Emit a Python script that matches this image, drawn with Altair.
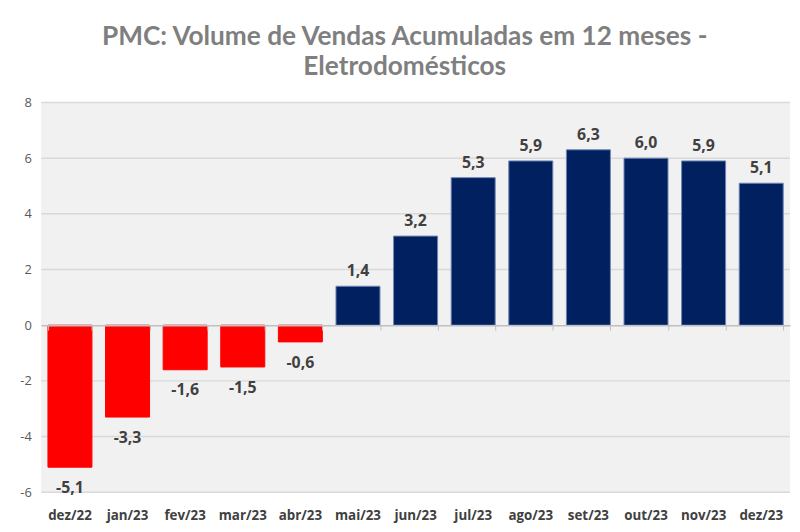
import altair as alt
import pandas as pd

# ---- data ----
months = ["dez/22", "jan/23", "fev/23", "mar/23", "abr/23", "mai/23", "jun/23",
          "jul/23", "ago/23", "set/23", "out/23", "nov/23", "dez/23"]
values = [-5.1, -3.3, -1.6, -1.5, -0.6, 1.4, 3.2, 5.3, 5.9, 6.3, 6.0, 5.9, 5.1]
y_ticks = [-6, -4, -2, 0, 2, 4, 6, 8]
title_lines = ["PMC: Volume de Vendas Acumuladas em 12 meses -", "Eletrodomésticos"]

df = pd.DataFrame({"mes": months, "v": values})
df["lbl"] = [f"{x:.1f}".replace(".", ",") for x in values]
grid_df = pd.DataFrame({"t": [t for t in y_ticks if t != 0]})

W, H = 757, 394
Y_MIN, Y_MAX = -6, 8
zero_from_bottom = H * (0 - Y_MIN) / (Y_MAX - Y_MIN)

FONT = "Open Sans"
TXT = "#404040"

xscale = alt.Scale(domain=months, paddingInner=0.236, paddingOuter=0.118)
yscale = alt.Scale(domain=[Y_MIN, Y_MAX], nice=False)

yaxis = alt.Axis(values=y_ticks, title=None, domain=False, ticks=False, grid=False,
                 labelFont=FONT, labelFontSize=13, labelColor="#595959", labelPadding=10,
                 labelExpr="replace(datum.label, '\u2212', '-')")
xaxis_labels = alt.Axis(orient="bottom", title=None, domain=False, ticks=False, labelAngle=0,
                        labelFont=FONT, labelFontWeight="bold", labelFontSize=13.5,
                        labelColor=TXT, labelPadding=17, grid=False)
xaxis_zero = alt.Axis(orient="bottom", offset=-zero_from_bottom, labels=False, title=None,
                      domain=True, domainColor="#bfbfbf", domainWidth=1.5,
                      ticks=True, tickBand="extent", tickSize=5, tickColor="#bfbfbf",
                      tickWidth=1, grid=False, zindex=1)

grid = alt.Chart(grid_df).mark_rule(color="#d9d9d9", strokeWidth=1.5).encode(
    y=alt.Y("t:Q", scale=yscale, axis=yaxis))

bars = alt.Chart(df).mark_bar(strokeWidth=1).encode(
    x=alt.X("mes:N", sort=months, scale=xscale, axis=xaxis_labels),
    y=alt.Y("v:Q", scale=yscale, axis=yaxis),
    y2=alt.datum(0),
    color=alt.condition("datum.v < 0", alt.value("#ff0000"), alt.value("#002060")),
    stroke=alt.condition("datum.v < 0", alt.value("#ff0000"), alt.value("#6f86b5")),
)

lab_pos = alt.Chart(df).transform_filter("datum.v >= 0").mark_text(
    font=FONT, fontSize=16, fontWeight="bold", color=TXT, baseline="alphabetic", dy=-10
).encode(
    x=alt.X("mes:N", sort=months, scale=xscale, axis=xaxis_zero),
    y=alt.Y("v:Q", scale=yscale, axis=yaxis),
    text="lbl:N",
)

lab_neg = alt.Chart(df).transform_filter("datum.v < 0").mark_text(
    font=FONT, fontSize=16, fontWeight="bold", color=TXT, baseline="alphabetic", dy=26
).encode(
    x=alt.X("mes:N", sort=months, scale=xscale, axis=None),
    y=alt.Y("v:Q", scale=yscale, axis=yaxis),
    text="lbl:N",
)

chart = alt.layer(grid, bars, lab_pos, lab_neg).resolve_scale(x="independent").properties(
    width=W, height=H,
    autosize="none",
    padding={"left": 33.5, "top": 92.7, "right": 2, "bottom": 30},
    title=alt.Title(title_lines, font="Lato", fontSize=26.5, fontWeight="bold", color="#7f7f7f",
                    lineHeight=31, anchor="middle", dx=-11, offset=16),
).configure_view(stroke=None, fill="#f1f1f1")

chart.save("out.html", embed_options={"renderer": "svg", "actions": False})
